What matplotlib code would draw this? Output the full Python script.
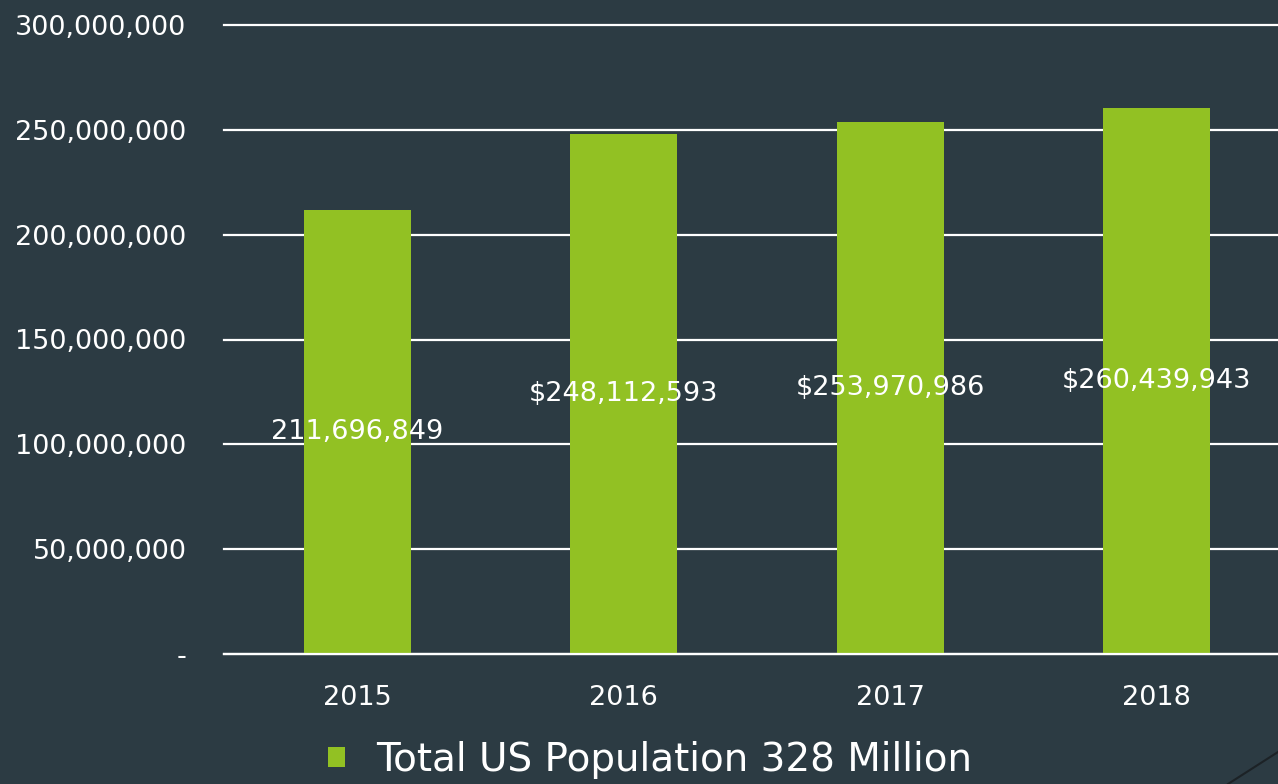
import matplotlib.pyplot as plt
from matplotlib.lines import Line2D
from matplotlib.ticker import FuncFormatter


YEARS = ["2015", "2016", "2017", "2018"]
POPULATION = [211696849, 248112593, 253970986, 260439943]
BAR_LABELS = ["211,696,849", "$248,112,593", "$253,970,986", "$260,439,943"]
LEGEND_LABEL = "Total US Population 328 Million"

BG = "#2c3b43"
GREEN = "#92c123"


def axis_label(value, pos):

    if value == 0:
        return "-"

    return f"{value:,.0f}"


def main():

    plt.rcParams["font.family"] = ["DejaVu Sans"]

    fig = plt.figure(figsize=(12.78, 7.84), dpi=100, facecolor=BG)

    ax = fig.add_axes([224 / 1278, 1 - 654 / 784, 1066 / 1278, 629 / 784])
    ax.set_facecolor(BG)

    x = range(len(YEARS))

    bars = ax.bar(
        x,
        POPULATION,
        width=0.4,
        color=GREEN,
        zorder=3,
        label=LEGEND_LABEL
    )

    for bar, text in zip(bars, BAR_LABELS):
        ax.text(
            bar.get_x() + bar.get_width() / 2,
            bar.get_height() / 2,
            text,
            ha="center",
            va="center",
            color="white",
            fontsize=19.5,
            zorder=4
        )

    ax.set_xlim(-0.5, 3.5)
    ax.set_ylim(0, 300000000)
    ax.set_yticks(range(0, 300000001, 50000000))
    ax.yaxis.set_major_formatter(FuncFormatter(axis_label))

    ax.set_xticks(list(x))
    ax.set_xticklabels(YEARS)

    ax.grid(axis="y", color="white", linewidth=1.6, zorder=1)
    ax.set_axisbelow(True)

    for line in ax.get_ygridlines():
        line.set_clip_on(False)

    for side in ["top", "right", "left"]:
        ax.spines[side].set_visible(False)

    ax.spines["bottom"].set_color("white")
    ax.spines["bottom"].set_linewidth(1.6)
    ax.spines["bottom"].set_zorder(5)

    ax.tick_params(axis="y", length=0, pad=27, labelsize=19.5, colors="white")
    ax.tick_params(axis="x", length=0, pad=22, labelsize=19.5, colors="white")

    fig.legend(
        handles=[bars],
        labels=[LEGEND_LABEL],
        loc="center",
        bbox_to_anchor=(650 / 1278, 1 - 760 / 784),
        frameon=False,
        fontsize=28,
        labelcolor="white",
        handlelength=0.42,
        handleheight=0.42,
        handletextpad=0.8
    )

    fig.add_artist(
        Line2D(
            [1228 / 1278, 1.0],
            [1 - 784 / 784, 1 - 752 / 784],
            color="#1c2226",
            linewidth=1.5
        )
    )

    fig.savefig("out.png", dpi=100, facecolor=BG)

    plt.close(fig)


if __name__ == "__main__":
    main()
